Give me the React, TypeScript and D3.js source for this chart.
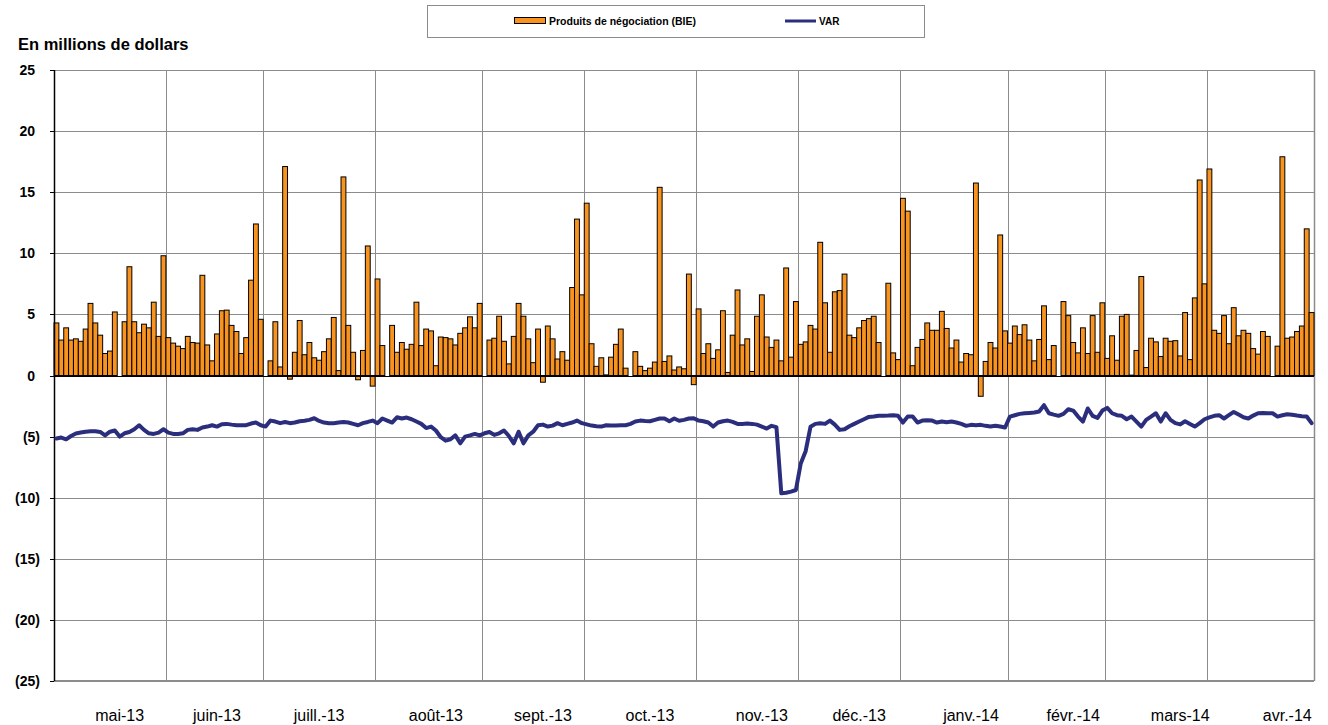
import React from 'react';
import * as d3 from 'd3';

// Daily trading revenue (BIE), one entry per business-day slot (null = holiday)
const tradingRevenue: (number | null)[] = [
  4.3, 2.9, 3.9, 2.9, 3.0, 2.8, 3.8, 5.9, 4.3, 3.3, 1.8, 2.0, 5.2, null, 4.4, 8.9, 4.4, 3.5, 4.2, 3.9,
  6.0, 3.2, 9.8, 3.1, 2.65, 2.4, 2.2, 3.2, 2.7, 2.65, 8.2, 2.5, 1.2, 3.4, 5.3, 5.35, 4.1, 3.6, 1.8, 3.1,
  7.8, 12.4, 4.6, null, 1.2, 4.4, 0.7, 17.1, -0.3, 1.9, 4.5, 1.7, 2.7, 1.45, 1.25, 1.95, 3.0, 4.75, 0.4, 16.25,
  4.1, 1.9, -0.35, 2.05, 10.6, -0.87, 7.9, 2.45, null, 4.1, 1.9, 2.7, 2.15, 2.55, 6.0, 2.45, 3.8, 3.65, 0.8, 3.15,
  3.1, 3.0, 2.5, 3.45, 3.9, 4.8, 3.9, 5.9, null, 2.9, 3.05, 4.85, 2.8, 0.95, 3.2, 5.9, 4.85, 3.0, 1.05, 3.8,
  -0.55, 4.05, 3.0, 1.35, 1.95, 1.25, 7.2, 12.8, 6.6, 14.1, 2.6, 0.75, 1.45, 0.05, 1.5, 2.55, 3.8, 0.6, null, 1.95,
  0.75, 0.4, 0.6, 1.1, 15.4, 1.15, 1.6, 0.45, 0.7, 0.55, 8.3, -0.75, 5.45, 1.8, 2.6, 1.4, 2.1, 5.3, 0.25, 3.3,
  7.0, 2.5, 3.0, 0.33, 4.85, 6.6, 3.15, 2.3, 2.9, 1.2, 8.8, 1.5, 6.05, 2.55, 2.75, 4.1, 3.8, 10.9, 5.95, 1.9,
  6.85, 6.95, 8.3, 3.3, 3.1, 3.9, 4.5, 4.65, 4.85, 2.7, null, 7.55, 1.85, 1.3, 14.5, 13.45, 0.8, 2.3, 2.95, 4.3,
  3.7, 3.7, 5.25, 3.85, 2.25, 2.9, 1.1, 1.8, 1.7, 15.75, -1.7, 1.15, 2.7, 2.25, 11.5, 3.65, 2.65, 4.05, 3.35, 4.15,
  2.9, 1.2, 2.95, 5.7, 1.3, 2.45, null, 6.05, 4.9, 2.7, 1.85, 3.9, 1.8, 4.9, 1.9, 5.95, 1.4, 3.25, 1.25, 4.85,
  5.0, 0.03, 2.05, 8.1, 0.65, 3.05, 2.75, 1.55, 3.05, 2.8, 2.85, 1.6, 5.15, 1.3, 6.35, 16.0, 7.5, 16.9, 3.7, 3.45,
  4.9, 2.6, 5.55, 3.25, 3.7, 3.45, 2.2, 1.75, 3.6, 3.2, null, 2.4, 17.9, 3.05, 3.15, 3.6, 4.05, 12.0, 5.15,
];

// VAR (negative, in millions), one entry per slot
const varValues: number[] = [
  -5.16, -5.08, -5.22, -4.95, -4.75, -4.67, -4.6, -4.57, -4.57, -4.62, -4.9, -4.6, -4.5, -5.0, -4.73, -4.62, -4.4, -4.07, -4.45, -4.73,
  -4.78, -4.67, -4.4, -4.67, -4.78, -4.78, -4.73, -4.45, -4.4, -4.45, -4.26, -4.18, -4.07, -4.18, -3.99, -3.96, -4.02, -4.07, -4.07, -4.07,
  -3.93, -3.85, -4.07, -4.18, -3.69, -3.77, -3.9, -3.8, -3.9, -3.85, -3.74, -3.7, -3.63, -3.5, -3.72, -3.85, -3.9, -3.9, -3.85, -3.8,
  -3.85, -3.96, -4.07, -3.9, -3.8, -3.69, -3.9, -3.52, -3.69, -3.85, -3.42, -3.52, -3.44, -3.58, -3.77, -3.96, -4.3, -4.18, -4.5, -5.05,
  -5.33, -5.22, -4.9, -5.55, -5.0, -4.9, -4.78, -4.9, -4.73, -4.62, -4.86, -4.73, -4.5, -4.95, -5.55, -4.6, -5.55, -4.9, -4.6, -4.07,
  -4.02, -4.18, -4.1, -3.9, -4.07, -3.96, -3.85, -3.69, -3.9, -4.0, -4.1, -4.15, -4.18, -4.07, -4.1, -4.1, -4.07, -4.07, -3.96, -3.77,
  -3.69, -3.72, -3.74, -3.63, -3.52, -3.52, -3.74, -3.52, -3.7, -3.63, -3.52, -3.5, -3.69, -3.74, -3.85, -4.18, -3.85, -3.74, -3.69, -3.8,
  -3.96, -3.96, -3.93, -3.96, -4.02, -4.18, -4.34, -4.12, -4.23, -9.64, -9.59, -9.5, -9.37, -7.2, -6.2, -4.2, -3.96, -3.9, -3.96, -3.69,
  -4.02, -4.45, -4.4, -4.15, -3.96, -3.77, -3.58, -3.39, -3.36, -3.3, -3.3, -3.28, -3.25, -3.3, -3.85, -3.36, -3.36, -3.85, -3.69, -3.66,
  -3.69, -3.85, -3.77, -3.82, -3.77, -3.85, -3.96, -4.12, -4.04, -4.07, -4.04, -4.12, -4.18, -4.12, -4.18, -4.26, -3.36, -3.25, -3.14, -3.09,
  -3.06, -3.03, -2.95, -2.43, -3.09, -3.2, -3.3, -3.14, -2.76, -2.87, -3.36, -3.77, -2.7, -3.3, -3.47, -2.87, -2.65, -3.09, -3.25, -3.3,
  -3.58, -3.36, -3.77, -4.18, -3.63, -3.36, -3.09, -3.77, -3.09, -3.63, -3.9, -4.0, -3.74, -3.96, -4.18, -3.9, -3.58, -3.42, -3.3, -3.25,
  -3.52, -3.25, -2.98, -3.2, -3.42, -3.52, -3.28, -3.09, -3.06, -3.09, -3.09, -3.36, -3.25, -3.17, -3.22, -3.28, -3.33, -3.36, -3.9,
];

const monthLabels = ['mai-13', 'juin-13', 'juill.-13', 'août-13', 'sept.-13', 'oct.-13', 'nov.-13', 'déc.-13', 'janv.-14', 'févr.-14', 'mars-14', 'avr.-14'];
// index of the first business-day slot of each month
const monthStartSlot = [0, 23, 43, 66, 88, 109, 132, 153, 174, 196, 216, 237];
// slot under which each month label sits
const monthLabelSlot = [13, 33, 54, 78, 100, 122, 145, 165, 188, 209, 231, 253];
const yTicks = [25, 20, 15, 10, 5, 0, -5, -10, -15, -20, -25];

const W = 1328;
const H = 725;
const PLOT = { left: 54, right: 1314, top: 70, bottom: 681 };
const ORANGE = '#F7931E';
const NAVY = '#2B2E7D';
const GRID = '#8C8C8C';
const FONT = 'Arial, "Liberation Sans", Helvetica, sans-serif';

export default function App() {
  const n = tradingRevenue.length;
  const slots = d3.range(n);
  const x = d3.scaleBand<number>().domain(slots).range([PLOT.left, PLOT.right]).padding(0);
  const y = d3.scaleLinear().domain([-25, 25]).range([PLOT.bottom, PLOT.top]);
  const bw = x.bandwidth();
  const xc = (i: number) => (x(i) as number) + bw / 2;

  const line = d3
    .line<number>()
    .x((_, i) => xc(i))
    .y((d) => y(d));

  const fmt = (v: number) => (v < 0 ? `(${Math.abs(v)})` : `${v}`);

  return (
    <div style={{ position: 'fixed', left: 0, top: 0, width: W, height: H, background: '#fff' }}>
      <svg width={W} height={H} style={{ display: 'block', fontFamily: FONT }}>
        <rect x={0} y={0} width={W} height={H} fill="#fff" />

        {/* legend */}
        <rect x={427.5} y={5.5} width={497} height={32} fill="#fff" stroke="#8C8C8C" strokeWidth={1} />
        <rect x={514.5} y={17.5} width={31} height={6} fill={ORANGE} stroke="#000" strokeWidth={1} />
        <text x={549} y={24.5} fontSize={10.5} fontWeight="bold" fill="#000">Produits de négociation (BIE)</text>
        <line x1={785} x2={816} y1={21} y2={21} stroke={NAVY} strokeWidth={3} />
        <text x={819} y={24.5} fontSize={10} fontWeight="bold" fill="#000">VAR</text>

        {/* title */}
        <text x={18} y={50} fontSize={16.5} fontWeight="bold" fill="#000">En millions de dollars</text>

        {/* horizontal grid */}
        {yTicks.filter((t) => t !== 0).map((t) => (
          <line key={`h${t}`} x1={PLOT.left} x2={PLOT.right} y1={Math.round(y(t)) + 0.5} y2={Math.round(y(t)) + 0.5} stroke={GRID} strokeWidth={1} />
        ))}
        {/* vertical grid at month starts */}
        {monthStartSlot.slice(1).map((s) => (
          <line key={`v${s}`} x1={Math.round(x(s) as number) + 0.5} x2={Math.round(x(s) as number) + 0.5} y1={PLOT.top} y2={PLOT.bottom} stroke={GRID} strokeWidth={1} />
        ))}
        <line x1={PLOT.right + 0.5} x2={PLOT.right + 0.5} y1={PLOT.top} y2={PLOT.bottom} stroke={GRID} strokeWidth={1.5} />
        <line x1={PLOT.left} x2={PLOT.right} y1={PLOT.bottom} y2={PLOT.bottom} stroke={GRID} strokeWidth={2} />

        {/* bars */}
        {tradingRevenue.map((v, i) =>
          v === null ? null : (
            <rect
              key={`b${i}`}
              x={x(i) as number}
              y={v >= 0 ? y(v) : y(0)}
              width={bw}
              height={Math.abs(y(v) - y(0))}
              fill={ORANGE}
              stroke="#000"
              strokeWidth={1}
            />
          )
        )}

        {/* zero line and left axis */}
        <line x1={PLOT.left} x2={PLOT.right} y1={Math.round(y(0)) + 0.5} y2={Math.round(y(0)) + 0.5} stroke="#000" strokeWidth={1} />
        <line x1={PLOT.left + 0.5} x2={PLOT.left + 0.5} y1={PLOT.top} y2={PLOT.bottom} stroke="#000" strokeWidth={1.5} />
        {yTicks.map((t) => (
          <line key={`t${t}`} x1={PLOT.left - 4} x2={PLOT.left} y1={Math.round(y(t)) + 0.5} y2={Math.round(y(t)) + 0.5} stroke="#000" strokeWidth={1} />
        ))}

        {/* VAR line */}
        <path d={line(varValues) || ''} fill="none" stroke={NAVY} strokeWidth={4} strokeLinejoin="round" strokeLinecap="round" />

        {/* y labels */}
        {yTicks.map((t) => (
          <text key={`yl${t}`} x={t < 0 ? 40 : 35} y={y(t) + 5} fontSize={14} fontWeight="bold" textAnchor="end" fill="#000">
            {fmt(t)}
          </text>
        ))}

        {/* x labels */}
        {monthLabels.map((m, i) => (
          <text key={m} x={xc(monthLabelSlot[i])} y={721} fontSize={16} textAnchor="middle" fill="#000">
            {m}
          </text>
        ))}
      </svg>
    </div>
  );
}
